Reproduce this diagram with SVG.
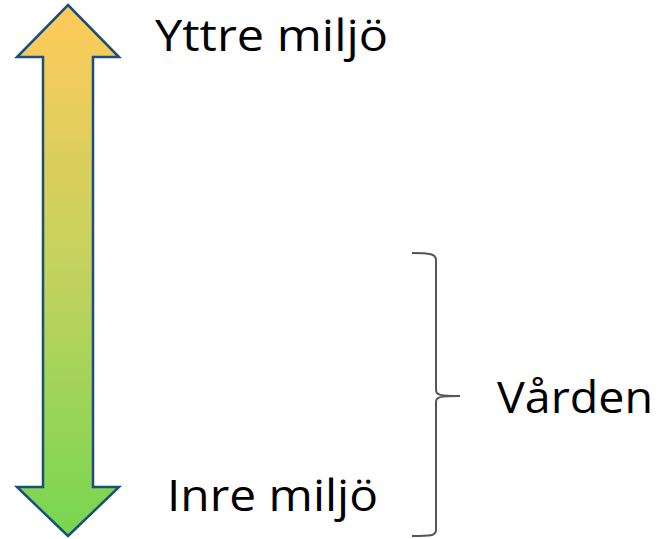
<svg xmlns="http://www.w3.org/2000/svg" width="667" height="539" viewBox="0 0 667 539">
<defs>
<linearGradient id="g" x1="0" y1="0" x2="0" y2="1">
<stop offset="0" stop-color="#FFCA5A"/>
<stop offset="0.5" stop-color="#C3D25E"/>
<stop offset="1" stop-color="#76D651"/>
</linearGradient>
<style>
.t{font-family:"Open Sans","Liberation Sans",sans-serif;font-size:44px;fill:#000}
</style>
</defs>
<g id="arrow">
<path d="M68,5 L119,57 L93,57 L93,487 L119,487 L68,536 L17,487 L43,487 L43,57 L17,57 Z" fill="url(#g)" stroke="#1B4E78" stroke-width="2.5" stroke-linejoin="miter"/>
</g>
<g id="brace">
<path d="M412,253 C430,253 436,254 436,260 L436,390 C436,395 440,396 460,396 C440,396 436,397 436,402 L436,530 C436,536 430,536 412,536" fill="none" stroke="#555" stroke-width="2"/>
</g>
<g id="yttre"><text class="t" x="155" y="51" textLength="233" lengthAdjust="spacingAndGlyphs">Yttre miljö</text></g>
<g id="inre"><text class="t" x="167" y="511" textLength="211" lengthAdjust="spacingAndGlyphs">Inre miljö</text></g>
<g id="varden"><text class="t" x="497" y="413" textLength="156" lengthAdjust="spacingAndGlyphs">Vården</text></g>
</svg>
